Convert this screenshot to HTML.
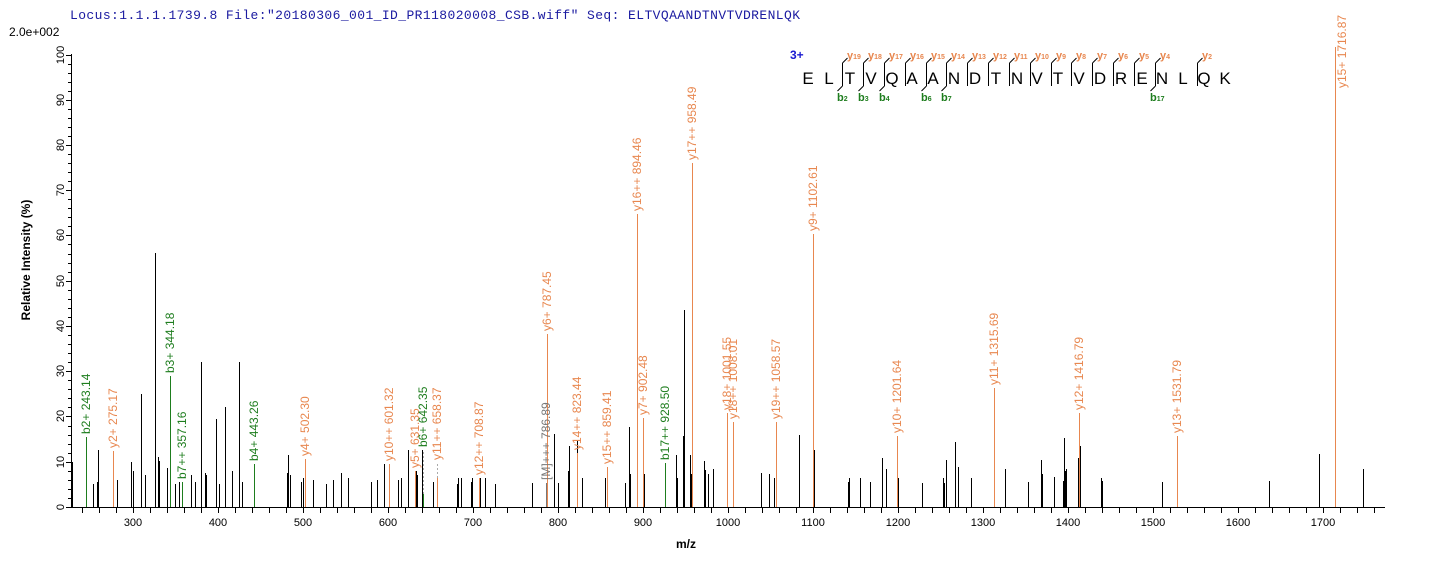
<!DOCTYPE html>
<html><head><meta charset="utf-8"><style>
html,body{margin:0;padding:0;background:#fff;}
svg{display:block;}
text{font-family:"Liberation Sans",Arial,sans-serif;}
.o{fill:#e8874f;font-size:12px;}
.g{fill:#1e7d1e;font-size:12px;}
.t{font-size:11px;fill:#000;}
</style></head><body>
<svg width="1436" height="566" viewBox="0 0 1436 566" xmlns="http://www.w3.org/2000/svg">
<text x="70" y="19" textLength="730" lengthAdjust="spacing" style="font-family:'Liberation Mono',monospace;font-size:13px;fill:#1a1aa0">Locus:1.1.1.1739.8 File:"20180306_001_ID_PR118020008_CSB.wiff"   Seq: ELTVQAANDTNVTVDRENLQK</text>
<text x="9" y="36" style="font-size:12px">2.0e+002</text>
<!-- axes -->
<path d="M71.5 54 V507.5 H1385" stroke="#000" stroke-width="1" fill="none"/>
<path stroke="#000" stroke-width="1" d="M66 507.5h5M68 498.5h3M68 489.5h3M68 480.5h3M68 471.5h3M66 462.5h5M68 453.5h3M68 444.5h3M68 435.5h3M68 426.5h3M66 416.5h5M68 407.5h3M68 398.5h3M68 389.5h3M68 380.5h3M66 371.5h5M68 362.5h3M68 353.5h3M68 344.5h3M68 335.5h3M66 326.5h5M68 317.5h3M68 308.5h3M68 299.5h3M68 290.5h3M66 281.5h5M68 272.5h3M68 263.5h3M68 254.5h3M68 244.5h3M66 235.5h5M68 226.5h3M68 217.5h3M68 208.5h3M68 199.5h3M66 190.5h5M68 181.5h3M68 172.5h3M68 163.5h3M68 154.5h3M66 145.5h5M68 136.5h3M68 127.5h3M68 118.5h3M68 109.5h3M66 100.5h5M68 91.5h3M68 82.5h3M68 73.5h3M68 64.5h3M66 55.5h5"/>
<g class="t" text-anchor="middle">
<text transform="translate(64,507) rotate(-90)">0</text>
<text transform="translate(64,462) rotate(-90)">10</text>
<text transform="translate(64,416) rotate(-90)">20</text>
<text transform="translate(64,371) rotate(-90)">30</text>
<text transform="translate(64,326) rotate(-90)">40</text>
<text transform="translate(64,281) rotate(-90)">50</text>
<text transform="translate(64,235) rotate(-90)">60</text>
<text transform="translate(64,190) rotate(-90)">70</text>
<text transform="translate(64,145) rotate(-90)">80</text>
<text transform="translate(64,100) rotate(-90)">90</text>
<text transform="translate(64,55) rotate(-90)">100</text>
</g>
<path stroke="#000" stroke-width="1" d="M82.5 507v6M99.5 507v6M116.5 507v6M133.5 507v6M150.5 507v6M167.5 507v6M184.5 507v6M201.5 507v6M218.5 507v6M235.5 507v6M252.5 507v6M269.5 507v6M286.5 507v6M303.5 507v6M320.5 507v6M337.5 507v6M354.5 507v6M371.5 507v6M388.5 507v6M405.5 507v6M422.5 507v6M439.5 507v6M456.5 507v6M473.5 507v6M490.5 507v6M507.5 507v6M524.5 507v6M541.5 507v6M558.5 507v6M575.5 507v6M592.5 507v6M609.5 507v6M626.5 507v6M643.5 507v6M660.5 507v6M677.5 507v6M694.5 507v6M711.5 507v6M728.5 507v6M745.5 507v6M762.5 507v6M779.5 507v6M796.5 507v6M813.5 507v6M830.5 507v6M847.5 507v6M864.5 507v6M881.5 507v6M898.5 507v6M915.5 507v6M932.5 507v6M949.5 507v6M966.5 507v6M983.5 507v6M1000.5 507v6M1017.5 507v6M1034.5 507v6M1051.5 507v6M1068.5 507v6M1085.5 507v6M1102.5 507v6M1119.5 507v6M1136.5 507v6M1153.5 507v6M1170.5 507v6M1187.5 507v6M1204.5 507v6M1221.5 507v6M1238.5 507v6M1255.5 507v6M1272.5 507v6M1289.5 507v6M1306.5 507v6M1323.5 507v6M1340.5 507v6M1357.5 507v6M1374.5 507v6"/>
<g class="t" text-anchor="middle">
<text x="133" y="526">300</text><text x="218" y="526">400</text><text x="303" y="526">500</text><text x="388" y="526">600</text><text x="473" y="526">700</text><text x="558" y="526">800</text><text x="643" y="526">900</text><text x="728" y="526">1000</text><text x="813" y="526">1100</text><text x="898" y="526">1200</text><text x="983" y="526">1300</text><text x="1068" y="526">1400</text><text x="1153" y="526">1500</text><text x="1238" y="526">1600</text><text x="1323" y="526">1700</text>
</g>
<text x="686" y="548" text-anchor="middle" style="font-size:12px;font-weight:bold">m/z</text>
<text transform="translate(30,260) rotate(-90)" text-anchor="middle" style="font-size:12px;font-weight:bold">Relative   Intensity (%)</text>
<!-- black peaks -->
<path stroke="#000" stroke-width="1" fill="none" d="M72.5 507V462M93.5 507V484M97.5 507V482M98.5 507V450M117.5 507V480M131.5 507V462M133.5 507V471M141.5 507V394M145.5 507V475M155.5 507V253M158.5 507V457M159.5 507V461M167.5 507V468M175.5 507V484M179.5 507V482M191.5 507V475M195.5 507V482M201.5 507V362M205.5 507V473M206.5 507V475M216.5 507V419M219.5 507V484M225.5 507V407M232.5 507V471M239.5 507V362M242.5 507V482M287.5 507V473M288.5 507V455M290.5 507V475M301.5 507V482M303.5 507V478M313.5 507V480M326.5 507V484M333.5 507V480M341.5 507V473M348.5 507V478M371.5 507V482M377.5 507V480M384.5 507V464M398.5 507V480M401.5 507V478M408.5 507V450M416.5 507V471M417.5 507V475M422.5 507V450M433.5 507V482M457.5 507V484M458.5 507V478M461.5 507V478M471.5 507V482M472.5 507V478M480.5 507V478M485.5 507V478M495.5 507V484M532.5 507V483M554.5 507V434M558.5 507V483M568.5 507V471M569.5 507V446M577.5 507V441M582.5 507V478M605.5 507V478M625.5 507V483M629.5 507V427M630.5 507V474M644.5 507V474M676.5 507V455M677.5 507V478M683.5 507V436M684.5 507V310M690.5 507V455M691.5 507V474M704.5 507V461M705.5 507V470M708.5 507V474M713.5 507V469M761.5 507V473M769.5 507V474M774.5 507V478M799.5 507V435M814.5 507V450M848.5 507V482M849.5 507V478M860.5 507V478M870.5 507V482M882.5 507V458M886.5 507V469M898.5 507V478M922.5 507V483M943.5 507V478M944.5 507V483M946.5 507V460M955.5 507V442M958.5 507V467M971.5 507V478M1005.5 507V469M1028.5 507V482M1041.5 507V460M1042.5 507V474M1054.5 507V477M1063.5 507V481M1064.5 507V438M1065.5 507V471M1066.5 507V469M1078.5 507V458M1080.5 507V446M1101.5 507V478M1102.5 507V481M1162.5 507V482M1269.5 507V481M1319.5 507V454M1363.5 507V469"/>
<!-- orange peaks -->
<path stroke="#e8874f" stroke-width="1" fill="none" d="M113.5 507V451M305.5 507V459M389.5 507V464M415.5 507V471M479.5 507V478M547.5 507V334M577.5 507V453M607.5 507V467M637.5 507V214M643.5 507V418M692.5 507V163M727.5 507V413M733.5 507V422M776.5 507V422M813.5 507V234M897.5 507V436M994.5 507V388M1079.5 507V413M1177.5 507V436M1335.5 507V47"/>
<path stroke="#e8874f" stroke-width="1" fill="none" d="M437.5 507V478"/>
<path stroke="#aaa" stroke-width="1" stroke-dasharray="2,2" d="M437.5 478V462M423.5 494V450"/>
<path stroke="#1e7d1e" stroke-width="1" fill="none" d="M86.5 507V437M170.5 507V376M182.5 507V482M254.5 507V464M423.5 507V494M665.5 507V463"/>
<path stroke="#777" stroke-width="1" d="M546.5 507V483"/>
<!-- labels -->
<g class="o">
<text transform="translate(117,448) rotate(-90)">y2+ 275.17</text>
<text transform="translate(309,456) rotate(-90)">y4+ 502.30</text>
<text transform="translate(393,461) rotate(-90)">y10++ 601.32</text>
<text transform="translate(419,468) rotate(-90)">y5+ 631.35</text>
<text transform="translate(441,460) rotate(-90)">y11++ 658.37</text>
<text transform="translate(483,475) rotate(-90)">y12++ 708.87</text>
<text transform="translate(551,331) rotate(-90)">y6+ 787.45</text>
<text transform="translate(581,450) rotate(-90)">y14++ 823.44</text>
<text transform="translate(611,464) rotate(-90)">y15++ 859.41</text>
<text transform="translate(641,211) rotate(-90)">y16++ 894.46</text>
<text transform="translate(647,415) rotate(-90)">y7+ 902.48</text>
<text transform="translate(696,160) rotate(-90)">y17++ 958.49</text>
<text transform="translate(731,410) rotate(-90)">y18+ 1001.55</text>
<text transform="translate(737,419) rotate(-90)">y18++ 1008.01</text>
<text transform="translate(780,419) rotate(-90)">y19++ 1058.57</text>
<text transform="translate(817,231) rotate(-90)">y9+ 1102.61</text>
<text transform="translate(901,433) rotate(-90)">y10+ 1201.64</text>
<text transform="translate(998,385) rotate(-90)">y11+ 1315.69</text>
<text transform="translate(1083,410) rotate(-90)">y12+ 1416.79</text>
<text transform="translate(1181,433) rotate(-90)">y13+ 1531.79</text>
<text transform="translate(1346,88) rotate(-90)">y15+ 1716.87</text>
</g>
<g class="g">
<text transform="translate(90,434) rotate(-90)">b2+ 243.14</text>
<text transform="translate(174,373) rotate(-90)">b3+ 344.18</text>
<text transform="translate(186,479) rotate(-90)">b7++ 357.16</text>
<text transform="translate(258,461) rotate(-90)">b4+ 443.26</text>
<text transform="translate(427,447) rotate(-90)">b6+ 642.35</text>
<text transform="translate(669,460) rotate(-90)">b17++ 928.50</text>
</g>
<text transform="translate(550,480) rotate(-90)" style="fill:#777;font-size:12px">[M]+++ 786.89</text>
<!-- sequence -->
<text x="790" y="59" style="fill:#1a1ad0;font-size:12px;font-weight:bold">3+</text>
<g style="font-size:17px;fill:#000" text-anchor="middle">
<text x="808" y="84">E</text><text x="829" y="84">L</text><text x="850" y="84">T</text><text x="871" y="84">V</text><text x="892" y="84">Q</text><text x="912" y="84">A</text><text x="933" y="84">A</text><text x="954" y="84">N</text><text x="975" y="84">D</text><text x="996" y="84">T</text><text x="1017" y="84">N</text><text x="1037" y="84">V</text><text x="1058" y="84">T</text><text x="1079" y="84">V</text><text x="1100" y="84">D</text><text x="1121" y="84">R</text><text x="1142" y="84">E</text><text x="1162" y="84">N</text><text x="1183" y="84">L</text><text x="1204" y="84">Q</text><text x="1225" y="84">K</text>
</g>
<path stroke="#000" stroke-width="1" fill="none" d="M842.5 63V86M842.5 63l5 -5M842.5 86l-5 5M863.5 63V86M863.5 63l5 -5M863.5 86l-5 5M884.5 63V86M884.5 63l5 -5M884.5 86l-5 5M905.5 63V86M905.5 63l5 -5M926.5 63V86M926.5 63l5 -5M926.5 86l-5 5M946.5 63V86M946.5 63l5 -5M946.5 86l-5 5M967.5 63V86M967.5 63l5 -5M988.5 63V86M988.5 63l5 -5M1009.5 63V86M1009.5 63l5 -5M1030.5 63V86M1030.5 63l5 -5M1051.5 63V86M1051.5 63l5 -5M1071.5 63V86M1071.5 63l5 -5M1092.5 63V86M1092.5 63l5 -5M1113.5 63V86M1113.5 63l5 -5M1134.5 63V86M1134.5 63l5 -5M1155.5 63V86M1155.5 63l5 -5M1155.5 86l-5 5M1197.5 63V86M1197.5 63l5 -5"/>
<g style="fill:#e8874f;font-size:11px;font-weight:bold">
<text x="847" y="59">y<tspan font-size="7">19</tspan></text>
<text x="868" y="59">y<tspan font-size="7">18</tspan></text>
<text x="889" y="59">y<tspan font-size="7">17</tspan></text>
<text x="910" y="59">y<tspan font-size="7">16</tspan></text>
<text x="931" y="59">y<tspan font-size="7">15</tspan></text>
<text x="951" y="59">y<tspan font-size="7">14</tspan></text>
<text x="972" y="59">y<tspan font-size="7">13</tspan></text>
<text x="993" y="59">y<tspan font-size="7">12</tspan></text>
<text x="1014" y="59">y<tspan font-size="7">11</tspan></text>
<text x="1035" y="59">y<tspan font-size="7">10</tspan></text>
<text x="1056" y="59">y<tspan font-size="7">9</tspan></text>
<text x="1076" y="59">y<tspan font-size="7">8</tspan></text>
<text x="1097" y="59">y<tspan font-size="7">7</tspan></text>
<text x="1118" y="59">y<tspan font-size="7">6</tspan></text>
<text x="1139" y="59">y<tspan font-size="7">5</tspan></text>
<text x="1160" y="59">y<tspan font-size="7">4</tspan></text>
<text x="1202" y="59">y<tspan font-size="7">2</tspan></text>
</g>
<g style="fill:#1e7d1e;font-size:11px;font-weight:bold">
<text x="837" y="101">b<tspan font-size="7">2</tspan></text>
<text x="858" y="101">b<tspan font-size="7">3</tspan></text>
<text x="879" y="101">b<tspan font-size="7">4</tspan></text>
<text x="921" y="101">b<tspan font-size="7">6</tspan></text>
<text x="941" y="101">b<tspan font-size="7">7</tspan></text>
<text x="1150" y="101">b<tspan font-size="7">17</tspan></text>
</g>
</svg>
</body></html>
